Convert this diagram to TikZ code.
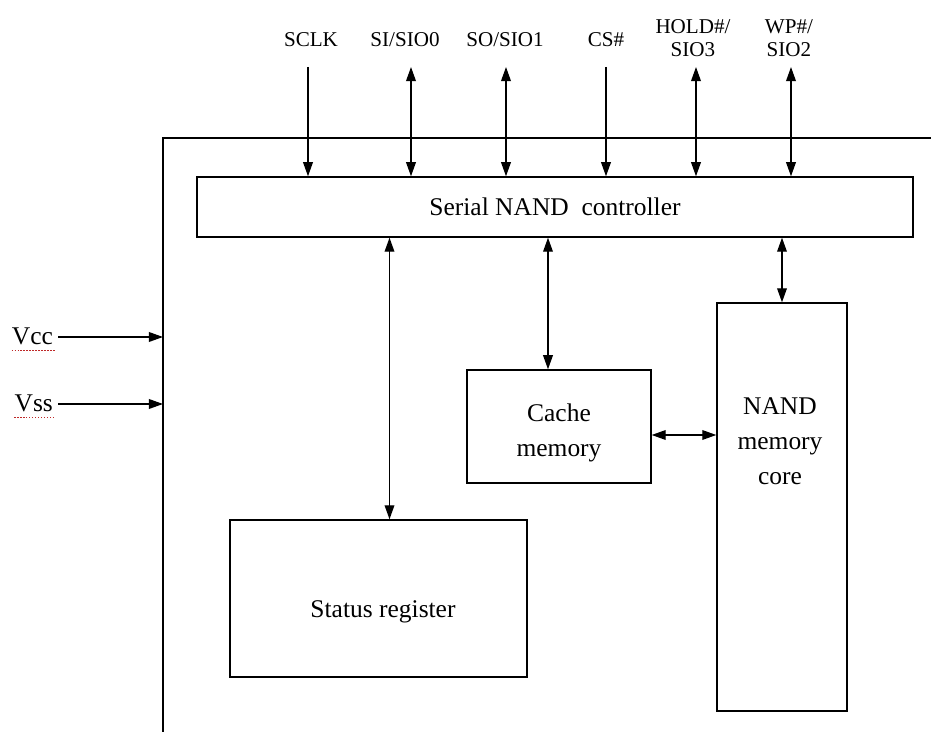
\documentclass[tikz,border=0pt]{standalone}
\usepackage{fontspec}
\setmainfont{Liberation Serif}
\usepackage{tikz}
\usetikzlibrary{arrows.meta,positioning,calc}
\definecolor{spellred}{RGB}{190,40,40}
\tikzset{
  blk/.style   ={draw, line width=0.8pt, fill=white, inner sep=0pt},
  pinlbl/.style={font=\fontsize{12}{13}\selectfont, align=center, inner sep=0pt},
  lbl/.style   ={font=\fontsize{14.5}{20}\selectfont, align=center, inner sep=1pt},
  arr/.style   ={-{Triangle[length=8pt,width=5.5pt]}, line width=0.8pt},
  barr/.style  ={{Triangle[length=8pt,width=5.5pt]}-{Triangle[length=8pt,width=5.5pt]}, line width=0.8pt},
  uline/.style ={spellred, densely dotted, line width=0.7pt},
}
\begin{document}
\begin{tikzpicture}[x=0.02cm,y=-0.02cm]
  \useasboundingbox (0,0) rectangle (931,732);
  %% chip outline (runs off the page)
  \coordinate (chipw) at (163,138);
  \draw[line width=0.8pt] (931,138) -| (163,732);
  %% blocks
  \node[blk, minimum width=14.32cm, minimum height=1.2cm] (ctrl) at (555,207) {};
  \node[lbl] at (ctrl.center) {Serial NAND\ \ controller};
  \node[blk, minimum width=3.68cm, minimum height=2.26cm] (cache) at (559,426.5) {};
  \node[lbl] at (559,433) {Cache\\memory};
  \node[blk, minimum width=2.6cm, minimum height=8.16cm] (core) at (782,507) {};
  \node[lbl] at (780,441) {NAND\\memory\\core};
  \node[blk, minimum width=5.94cm, minimum height=3.14cm] (stat) at (378.5,598.5) {};
  \node[lbl] at (383,612) {Status register};
  %% pins
  \node[pinlbl, anchor=base] (sclk) at (311,47) {SCLK};
  \node[pinlbl, anchor=base] (si)   at (405,47) {SI/SIO0};
  \node[pinlbl, anchor=base] (so)   at (505,47) {SO/SIO1};
  \node[pinlbl, anchor=base] (cs)   at (606,47) {CS\#};
  \node[pinlbl, anchor=south] (hold) at (693,57) {HOLD\#/\\SIO3};
  \node[pinlbl, anchor=south] (wp)   at (789,57) {WP\#/\\SIO2};
  \draw[arr]  (308,67) coordinate (p1) -- (p1 |- ctrl.north);
  \draw[barr] (411,67) coordinate (p2) -- (p2 |- ctrl.north);
  \draw[barr] (506,67) coordinate (p3) -- (p3 |- ctrl.north);
  \draw[arr]  (606,67) coordinate (p4) -- (p4 |- ctrl.north);
  \draw[barr] (696,67) coordinate (p5) -- (p5 |- ctrl.north);
  \draw[barr] (791,67) coordinate (p6) -- (p6 |- ctrl.north);
  %% power
  \node[lbl, anchor=base east] (vcc) at (55,345) {Vcc};
  \node[lbl, anchor=base east] (vss) at (55,412) {Vss};
  \draw[uline] ([xshift=1pt,yshift=-1.5pt]vcc.south west) -- ([yshift=-1.5pt]vcc.south east);
  \draw[uline] ([xshift=1pt,yshift=-1.5pt]vss.south west) -- ([yshift=-1.5pt]vss.south east);
  \draw[arr] (vcc.east |- 0,337) ++(3,0) coordinate (v1) -- (v1 -| chipw);
  \draw[arr] (vss.east |- 0,404) ++(3,0) coordinate (v2) -- (v2 -| chipw);
  %% internal links
  \draw[barr] (ctrl.south -| stat.north) ++(11,0) coordinate (s1) -- (s1 |- stat.north);
  \draw[barr] (cache.north -| 548,0) coordinate (c1) -- (c1 |- ctrl.south);
  \draw[barr] (core.north) -- (core.north |- ctrl.south);
  \draw[barr] (cache.east) ++(0,8.5) coordinate (c2) -- (c2 -| core.west);
\end{tikzpicture}
\end{document}
